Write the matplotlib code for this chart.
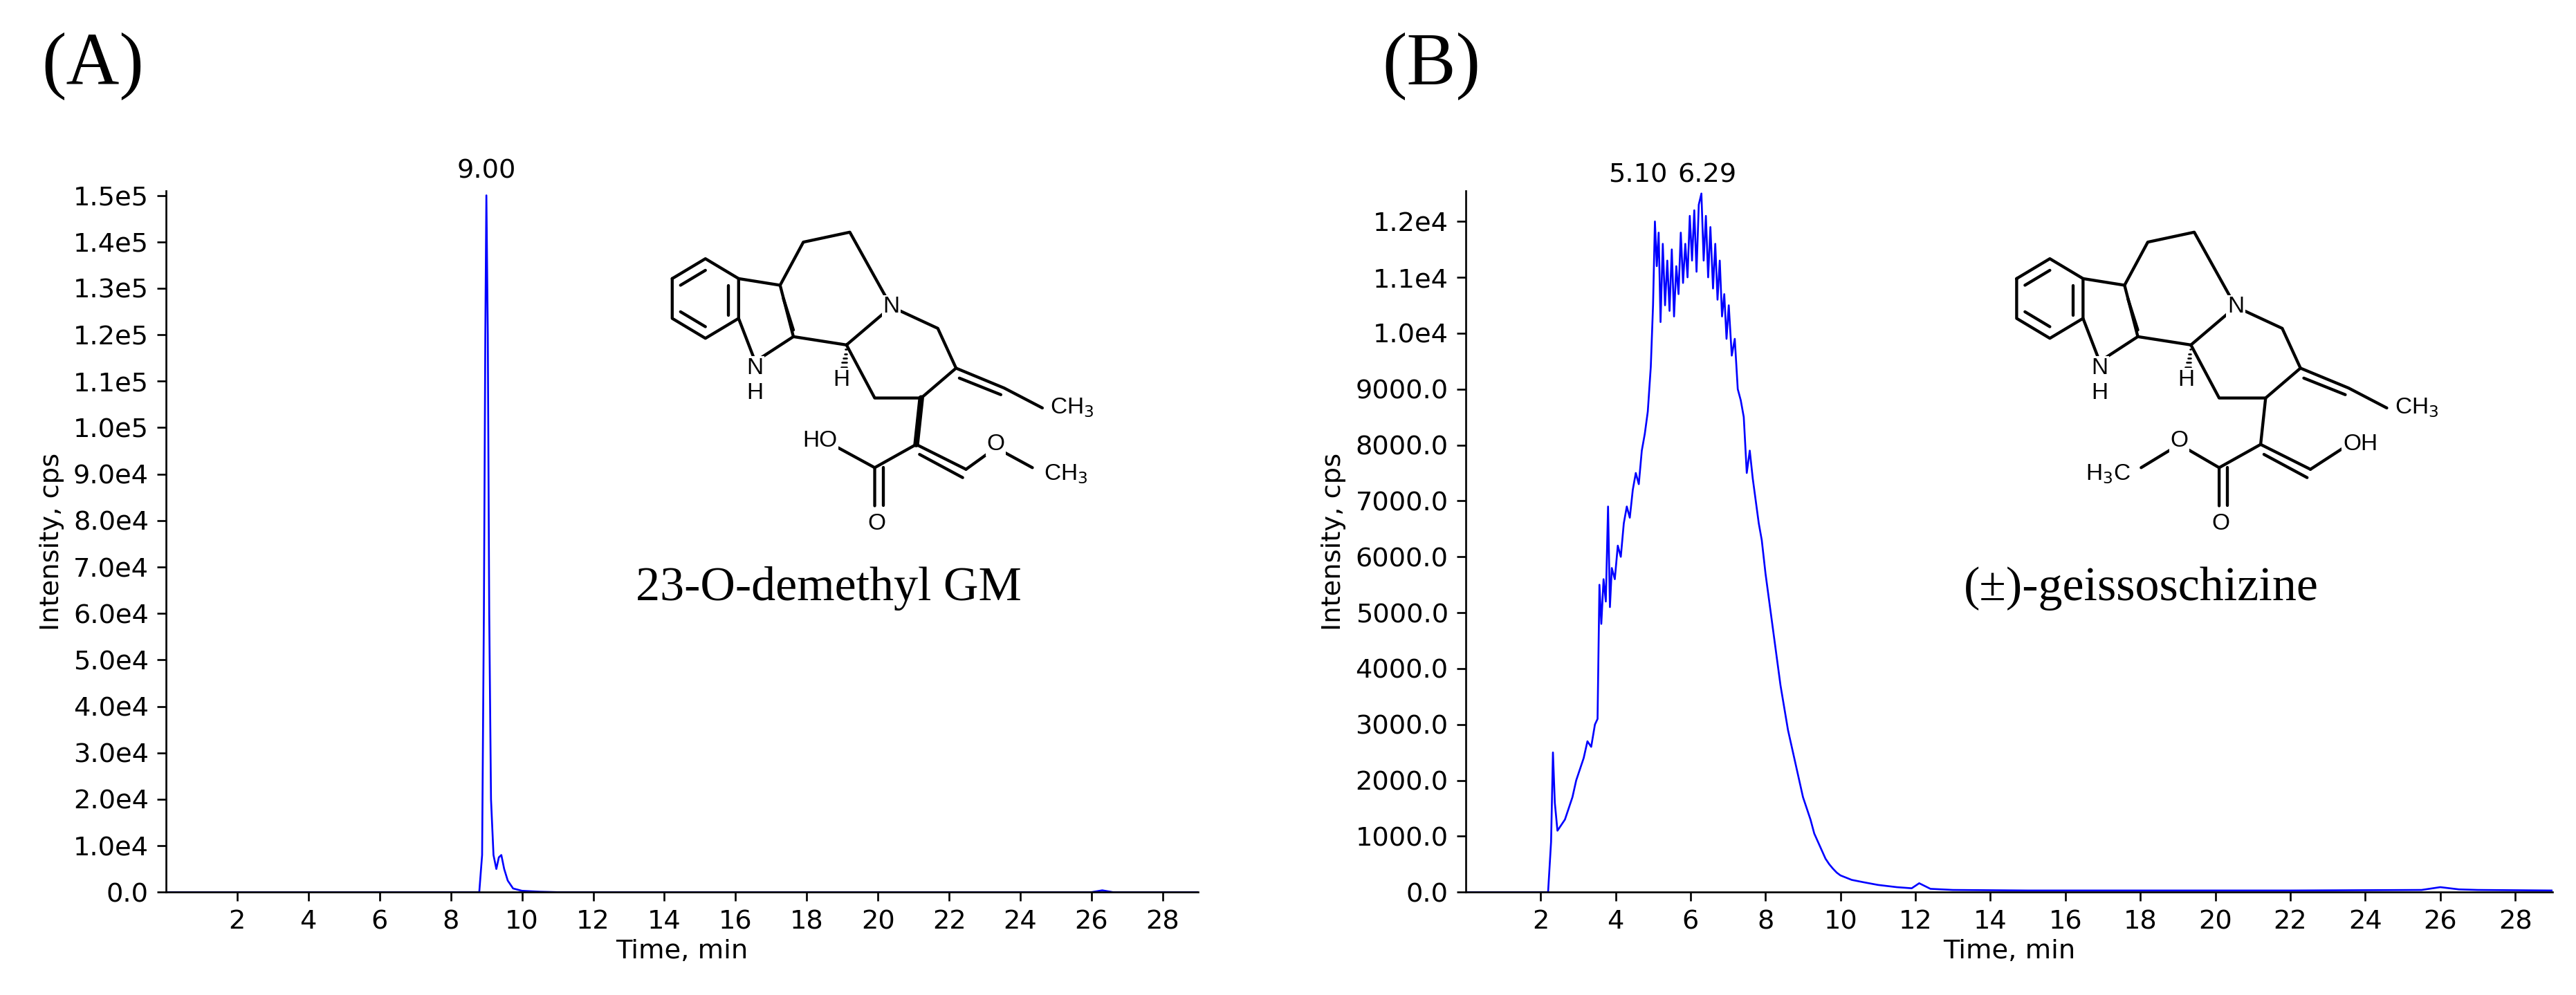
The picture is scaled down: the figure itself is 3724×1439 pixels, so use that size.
import matplotlib
matplotlib.use("Agg")
import matplotlib.pyplot as plt

# ---- data ----
tA = [0, 8.8, 8.88, 8.93, 8.97, 9.00, 9.04, 9.08, 9.13, 9.2, 9.28, 9.35, 9.42, 9.5, 9.6, 9.75, 10.0, 10.5, 11, 26, 26.3, 26.6, 29]
iA = [0, 0, 8000, 60000, 120000, 150000, 120000, 60000, 20000, 8000, 5000, 7500, 8000, 5000, 2500, 800, 300, 100, 0, 0, 400, 0, 0]

tB = [0, 2.2, 2.28, 2.33, 2.38, 2.45, 2.55, 2.65, 2.75, 2.85, 2.95, 3.05, 3.15, 3.25, 3.35, 3.45, 3.52, 3.57, 3.62, 3.68, 3.74, 3.8, 3.85, 3.9,
      3.98, 4.06, 4.14, 4.22, 4.3, 4.38, 4.46, 4.54, 4.62, 4.7, 4.78, 4.86, 4.94, 5.0, 5.05, 5.1, 5.15, 5.2, 5.26, 5.32, 5.38, 5.44,
      5.5, 5.56, 5.62, 5.68, 5.74, 5.8, 5.86, 5.92, 5.98, 6.04, 6.1, 6.16, 6.22, 6.29, 6.35, 6.41, 6.47, 6.53, 6.6, 6.66, 6.72,
      6.78, 6.84, 6.9, 6.96, 7.02, 7.1, 7.18, 7.26, 7.34, 7.42, 7.5, 7.58, 7.66, 7.74, 7.82, 7.9, 8.0, 8.1, 8.2, 8.3, 8.4, 8.5,
      8.6, 8.7, 8.8, 8.9, 9.0, 9.1, 9.2, 9.3, 9.4, 9.5, 9.6, 9.7, 9.8, 9.9, 10.0, 10.3, 10.6, 11.0, 11.5, 11.9, 12.1, 12.4,
      13, 15, 18, 22, 25.5, 26, 26.5, 27, 29]
iB = [0, 0, 900, 2500, 1600, 1100, 1200, 1300, 1500, 1700, 2000, 2200, 2400, 2700, 2600, 3000, 3100, 5500, 4800, 5600, 5200, 6900, 5100, 5800,
      5600, 6200, 6000, 6600, 6900, 6700, 7200, 7500, 7300, 7900, 8200, 8600, 9400, 10500, 12000, 11200, 11800, 10200, 11600, 10500, 11300, 10400,
      11500, 10300, 11200, 10700, 11800, 10900, 11600, 11000, 12100, 11300, 12200, 11100, 12300, 12500, 11300, 12100, 11000, 11900, 10800, 11600, 10600,
      11300, 10300, 10700, 9900, 10500, 9600, 9900, 9000, 8800, 8500, 7500, 7900, 7400, 7000, 6600, 6300, 5700, 5200, 4700, 4200, 3700, 3300,
      2900, 2600, 2300, 2000, 1700, 1500, 1300, 1050, 900, 750, 600, 500, 420, 350, 300, 220, 180, 130, 90, 70, 160, 60,
      40, 30, 30, 30, 40, 90, 50, 40, 30]

yticksA = [i * 10000 for i in range(16)]
ylabA = ["0.0"] + ["%.1fe4" % i for i in range(1, 10)] + ["%.1fe5" % (i / 10) for i in range(10, 16)]
yticksB = [i * 1000 for i in range(13)]
ylabB = ["%d.0" % (i * 1000) for i in range(10)] + ["1.0e4", "1.1e4", "1.2e4"]
xticks = list(range(2, 29, 2))

fig = plt.figure(figsize=(3724 / 240, 1439 / 240), dpi=240)
W, H = 1552, 600
def rect(l, r, t, b):
    return [l / W, 1 - b / H, (r - l) / W, (b - t) / H]

axA = fig.add_axes(rect(100, 722, 115, 538))
axB = fig.add_axes(rect(883, 1538, 115, 538))
for ax, t, i, yt, yl, ymax in [(axA, tA, iA, yticksA, ylabA, 151000), (axB, tB, iB, yticksB, ylabB, 12550)]:
    ax.plot(t, i, color="#0000ff", lw=0.8)
    ax.set_xlim(0, 29)
    ax.set_ylim(0, ymax)
    ax.set_xticks(xticks)
    ax.set_yticks(yt)
    ax.set_yticklabels(yl)
    ax.spines["top"].set_visible(False)
    ax.spines["right"].set_visible(False)
    ax.tick_params(labelsize=11.5, length=4)
    ax.set_xlabel("Time, min", fontsize=11.5, labelpad=2)
    ax.set_ylabel("Intensity, cps", fontsize=11.5)
axA.text(9.0, 151000 + 1500, "9.00", ha="center", va="bottom", fontsize=11.5)
axB.text(4.6, 12600, "5.10", ha="center", va="bottom", fontsize=11.5)
axB.text(6.45, 12600, "6.29", ha="center", va="bottom", fontsize=11.5)

# overlay for labels and structures (pixel coords of 1552x600 layout)
ov = fig.add_axes([0, 0, 1, 1])
ov.set_xlim(0, W); ov.set_ylim(H, 0); ov.axis("off")
ov.text(25, 40, "(A)", fontsize=32, family="Liberation Serif", va="center")
ov.text(833, 40, "(B)", fontsize=32, family="Liberation Serif", va="center")
ov.text(383, 355, "23-O-demethyl GM", fontsize=21, family="Liberation Serif", va="center")
ov.text(1183, 355, "(\u00b1)-geissoschizine", fontsize=21, family="Liberation Serif", va="center")

def L(pts, dx, lw=1.3):
    ov.plot([p[0] + dx for p in pts], [p[1] for p in pts], color="black", lw=lw, solid_capstyle="round")

def T(x, y, s, dx):
    ov.text(x + dx, y, s, fontsize=10, ha="center", va="center", family="Liberation Sans",
            bbox=dict(fc="white", ec="none", pad=0.5))

def core(dx):
    L([(405, 168), (425, 156), (445, 168), (445, 192), (425, 204), (405, 192), (405, 168)], dx)
    L([(410, 172), (425, 163)], dx); L([(439, 190), (439, 172)], dx); L([(410, 188), (425, 197)], dx)
    L([(445, 168), (470, 172), (478, 203), (455, 218), (445, 192)], dx)
    L([(472, 180), (478, 199)], dx)
    L([(470, 172), (484, 146), (512, 140), (537, 185)], dx)
    L([(478, 203), (510, 208), (537, 185), (565, 198), (576, 222), (555, 240), (527, 240), (510, 208)], dx)
    L([(576, 222), (605, 234), (628, 246)], dx)
    L([(578, 228), (603, 238)], dx)
    T(537, 185, "N", dx); T(455, 222, "N", dx); T(455, 237, "H", dx)
    T(646, 246, "CH$_3$", dx)
    T(507, 229, "H", dx)
    for k in range(5):
        f = (k + 1) / 6
        x = 510 + (508 - 510) * f; y = 208 + (224 - 208) * f
        L([(x - 2 * f, y), (x + 2 * f, y)], dx, lw=0.8)
    L([(555, 240), (552, 268)], dx, lw=2.5 if dx == 0 else 1.3)
    L([(552, 268), (527, 282), (527, 305)], dx)
    L([(532, 282), (532, 305)], dx)
    T(528, 316, "O", dx)
    L([(552, 268), (582, 283)], dx); L([(554, 274), (580, 288)], dx)

core(0)
L([(527, 282), (505, 270)], 0); T(494, 266, "HO", 0)
L([(582, 283), (600, 270), (622, 282)], 0); T(600, 268, "O", 0); T(642, 286, "CH$_3$", 0)
dx = 810
core(dx)
L([(527, 282), (503, 268), (480, 282)], dx); T(503, 266, "O", dx); T(460, 286, "H$_3$C", dx)
L([(582, 283), (602, 270)], dx); T(612, 268, "OH", dx)

fig.savefig("out.png", dpi=240)
